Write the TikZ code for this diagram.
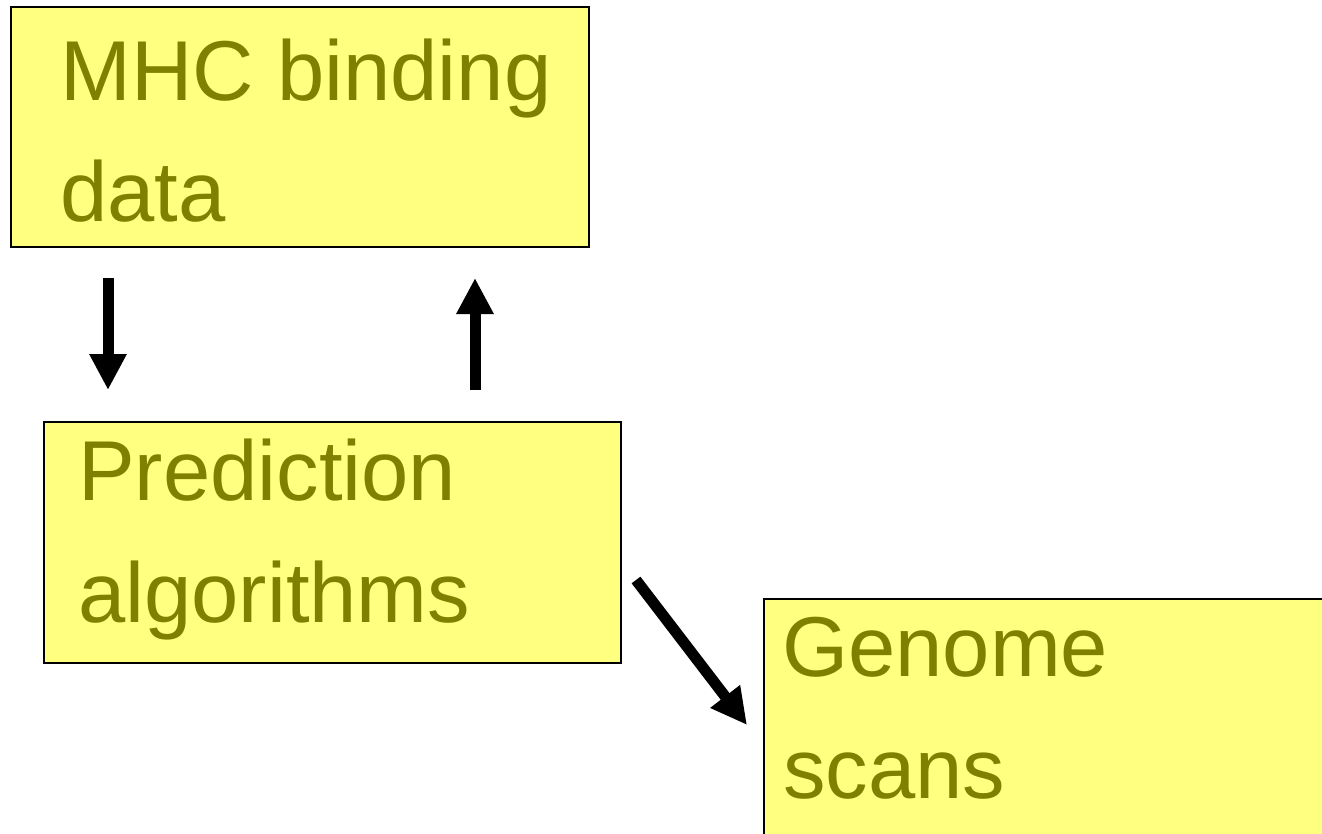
\documentclass[tikz,border=0pt]{standalone}
\usepackage{fontspec}
\setmainfont{Liberation Sans}
\usetikzlibrary{arrows.meta}
\definecolor{boxfill}{HTML}{FFFF80}
\definecolor{olivetext}{HTML}{808000}
\tikzset{
  box/.style={draw=black, line width=2pt, fill=boxfill, rectangle, anchor=north west, inner sep=0pt},
  txt/.style={anchor=base west, inner sep=0pt, text=olivetext, font=\fontsize{85}{100}\selectfont},
  bigarrow/.style={line width=11pt, -{Triangle[length=36pt,width=35pt]}}
}
\begin{document}
\begin{tikzpicture}[x=1pt,y=-1pt]
\useasboundingbox (0,0) rectangle (1322,834);
\fill[white] (0,0) rectangle (1322,834);
% boxes
\node[box, minimum width=578pt, minimum height=240pt] (mhc) at (10,6) {};
\node[box, minimum width=577pt, minimum height=241pt] (pred) at (43,421) {};
\node[box, minimum width=600pt, minimum height=260pt] (gen) at (763,598) {};
% texts
\node[txt] (mhc1) at (60,101) {MHC binding};
\node[txt] (mhc2) at (60,222) {data};
\node[txt] (pred1) at (78,500) {Prediction};
\node[txt] (pred2) at (78,622) {algorithms};
\node[txt] (gen1) at (782,676) {Genome};
\node[txt] (gen2) at (783,798) {scans};
% arrow ends
\coordinate (a1s) at (108,278);
\coordinate (a1e) at (108,390);
\coordinate (a2s) at (475,390);
\coordinate (a2e) at (475,278);
\coordinate (a3s) at (636,580);
\coordinate (a3e) at (747,725);
\draw[bigarrow] (a1s) -- (a1e);
\draw[bigarrow] (a2s) -- (a2e);
\draw[bigarrow] (a3s) -- (a3e);
\end{tikzpicture}
\end{document}
